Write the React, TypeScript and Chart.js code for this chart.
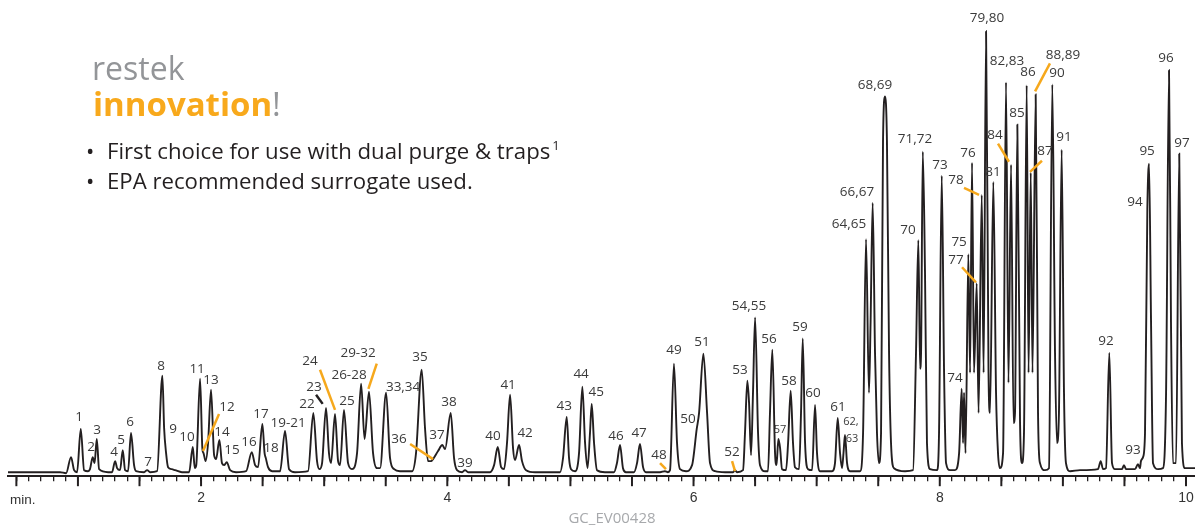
import React, { useEffect, useRef } from 'react';
import { Chart, registerables } from 'chart.js';

Chart.register(...registerables);

// ---------- data ----------
// x axis range (minutes)
const X_MIN = 0.432;
const X_MAX = 10.073;
const Y_MIN = -3;
const Y_MAX = 471;

// axis tick labels
const tickLabelValues = [2, 4, 6, 8, 10];
const tickLabels = ['2', '4', '6', '8', '10'];

// chromatogram trace: [retention time (min), detector signal]
const chromatogram: [number, number][] = [
  [0.432, 1], [0.855, 1], [0.904, 0], [0.944, 16], [0.969, 3], [0.993, 1], [1.023, 44], [1.05, 3],
  [1.082, 2], [1.098, 4], [1.12, 16], [1.135, 10], [1.153, 34], [1.172, 4], [1.245, 1], [1.277, 1],
  [1.302, 12], [1.318, 5], [1.342, 3], [1.364, 23], [1.383, 3], [1.407, 2], [1.431, 40], [1.456, 8],
  [1.472, 2], [1.537, 1], [1.562, 3], [1.586, 1], [1.643, 2], [1.686, 97], [1.7, 45], [1.716, 20],
  [1.732, 6], [1.762, 4], [1.789, 3], [1.845, 1], [1.903, 1], [1.933, 26], [1.949, 5], [1.961, 8],
  [1.992, 94], [2.011, 24], [2.02, 20], [2.037, 12], [2.057, 30], [2.081, 83], [2.106, 18], [2.122, 14],
  [2.149, 33], [2.17, 10], [2.187, 8], [2.209, 11], [2.236, 3], [2.284, 1], [2.366, 2], [2.412, 21],
  [2.439, 8], [2.463, 6], [2.498, 49], [2.516, 20], [2.526, 15], [2.544, 6], [2.577, 2], [2.642, 2],
  [2.682, 42], [2.715, 4], [2.763, 1], [2.869, 2], [2.912, 60], [2.942, 12], [2.962, 4], [2.983, 10],
  [3.015, 65], [3.039, 20], [3.056, 10], [3.088, 59], [3.113, 12], [3.129, 8], [3.161, 63], [3.194, 10],
  [3.226, 4], [3.267, 20], [3.3, 89], [3.328, 34], [3.364, 81], [3.397, 20], [3.429, 5], [3.454, 5],
  [3.503, 80], [3.535, 15], [3.568, 4], [3.616, 2], [3.714, 2], [3.746, 20], [3.792, 103], [3.819, 45],
  [3.844, 12], [3.868, 12], [3.884, 14], [3.925, 22], [3.96, 28], [3.982, 24], [4.028, 60], [4.055, 15],
  [4.079, 3], [4.12, 1], [4.144, 3], [4.169, 1], [4.347, 1], [4.38, 8], [4.41, 26], [4.437, 6],
  [4.461, 4], [4.485, 30], [4.51, 78], [4.534, 25], [4.55, 13], [4.583, 28], [4.607, 12], [4.64, 3],
  [4.713, 1], [4.916, 1], [4.94, 15], [4.97, 56], [4.989, 15], [5.005, 4], [5.038, 2], [5.07, 20],
  [5.097, 86], [5.119, 30], [5.139, 5], [5.159, 40], [5.173, 69], [5.192, 30], [5.216, 3], [5.281, 1],
  [5.354, 1], [5.378, 10], [5.403, 28], [5.427, 5], [5.451, 1], [5.516, 1], [5.541, 10], [5.565, 29],
  [5.59, 6], [5.614, 1], [5.728, 1], [5.768, 2], [5.792, 1], [5.809, 3], [5.841, 109], [5.866, 30],
  [5.89, 4], [5.939, 2], [5.988, 8], [6.026, 44], [6.045, 60], [6.08, 119], [6.11, 60], [6.134, 10],
  [6.175, 2], [6.256, 1], [6.321, 1], [6.337, 3], [6.353, 1], [6.402, 3], [6.418, 40], [6.437, 92],
  [6.451, 70], [6.467, 18], [6.483, 80], [6.5, 155], [6.524, 40], [6.54, 8], [6.581, 2], [6.605, 2],
  [6.621, 60], [6.64, 123], [6.662, 20], [6.674, 8], [6.689, 34], [6.703, 25], [6.719, 4], [6.751, 3],
  [6.768, 30], [6.789, 82], [6.808, 30], [6.824, 6], [6.857, 4], [6.873, 60], [6.887, 134], [6.906, 30],
  [6.93, 4], [6.963, 3], [6.987, 68], [7.003, 20], [7.028, 2], [7.125, 2], [7.149, 10], [7.171, 55],
  [7.19, 20], [7.206, 5], [7.218, 20], [7.23, 38], [7.247, 10], [7.271, 2], [7.352, 2], [7.377, 40],
  [7.401, 233], [7.425, 80], [7.438, 150], [7.455, 269], [7.474, 120], [7.49, 40], [7.506, 10], [7.523, 40],
  [7.539, 330], [7.555, 375], [7.571, 330], [7.588, 120], [7.604, 30], [7.628, 5], [7.718, 2], [7.783, 3],
  [7.807, 120], [7.826, 232], [7.84, 104], [7.848, 120], [7.862, 320], [7.88, 200], [7.896, 30], [7.921, 4],
  [7.978, 3], [7.994, 40], [8.016, 296], [8.035, 100], [8.051, 10], [8.083, 3], [8.124, 3], [8.157, 20],
  [8.178, 84], [8.189, 30], [8.197, 80], [8.209, 20], [8.232, 218], [8.246, 100], [8.262, 309], [8.278, 100],
  [8.3, 189], [8.315, 60], [8.341, 277], [8.356, 100], [8.376, 440], [8.396, 100], [8.408, 60], [8.435, 290],
  [8.457, 80], [8.473, 20], [8.489, 5], [8.514, 20], [8.538, 389], [8.558, 90], [8.579, 307], [8.599, 50],
  [8.611, 60], [8.63, 347], [8.652, 50], [8.668, 10], [8.684, 40], [8.706, 386], [8.721, 100], [8.739, 299],
  [8.753, 100], [8.779, 377], [8.798, 60], [8.814, 10], [8.855, 3], [8.887, 5], [8.914, 387], [8.936, 120],
  [8.952, 30], [8.968, 60], [8.99, 322], [9.009, 80], [9.025, 10], [9.058, 2], [9.139, 3], [9.285, 4],
  [9.307, 12], [9.326, 4], [9.35, 5], [9.377, 120], [9.399, 10], [9.423, 4], [9.48, 4], [9.496, 8],
  [9.513, 4], [9.586, 4], [9.61, 9], [9.626, 5], [9.634, 12], [9.651, 16], [9.667, 40], [9.686, 263],
  [9.7, 308], [9.716, 150], [9.732, 10], [9.773, 4], [9.813, 5], [9.838, 80], [9.862, 401], [9.878, 150],
  [9.894, 10], [9.919, 10], [9.945, 318], [9.967, 30], [9.992, 5], [10.073, 5],
];

// peak labels: [text, time (min), signal level, small font]
const peakLabels: [string, number, number, boolean][] = [
  ['1', 1.009, 56, false], ['2', 1.107, 26, false], ['3', 1.155, 43, false], ['4', 1.293, 21, false],
  ['5', 1.35, 33, false], ['6', 1.423, 51, false], ['7', 1.57, 11, false], ['8', 1.675, 107, false],
  ['9', 1.773, 44, false], ['10', 1.886, 36, false], ['11', 1.968, 104, false], ['12', 2.211, 66, false],
  ['13', 2.081, 93, false], ['14', 2.17, 41, false], ['15', 2.252, 23, false], ['16', 2.39, 31, false],
  ['17', 2.487, 59, false], ['18', 2.569, 25, false], ['19-21', 2.707, 50, false], ['22', 2.861, 69, false],
  ['23', 2.918, 86, false], ['24', 2.885, 112, false], ['25', 3.186, 72, false], ['26-28', 3.202, 98, false],
  ['29-32', 3.275, 119, false], ['33,34', 3.641, 86, false], ['35', 3.779, 115, false], ['36', 3.608, 34, false],
  ['37', 3.917, 38, false], ['38', 4.014, 71, false], ['39', 4.144, 10, false], ['40', 4.372, 37, false],
  ['41', 4.494, 88, false], ['42', 4.632, 40, false], ['43', 4.949, 67, false], ['44', 5.087, 99, false],
  ['45', 5.209, 81, false], ['46', 5.371, 37, false], ['47', 5.558, 40, false], ['48', 5.72, 18, false],
  ['49', 5.841, 122, false], ['50', 5.955, 54, false], ['51', 6.069, 130, false], ['52', 6.313, 21, false],
  ['53', 6.378, 103, false], ['54,55', 6.451, 166, false], ['56', 6.613, 133, false], ['57', 6.703, 43, true],
  ['58', 6.776, 92, false], ['59', 6.865, 145, false], ['60', 6.971, 80, false], ['61', 7.174, 66, false],
  ['62,', 7.279, 51, true], ['63', 7.287, 34, true], ['64,65', 7.263, 248, false], ['66,67', 7.328, 280, false],
  ['68,69', 7.474, 386, false], ['70', 7.742, 242, false], ['71,72', 7.799, 332, false], ['73', 8.002, 307, false],
  ['74', 8.124, 95, false], ['75', 8.157, 230, false], ['76', 8.23, 319, false], ['77', 8.132, 212, false],
  ['78', 8.132, 292, false], ['79,80', 8.384, 453, false], ['81', 8.433, 300, false], ['82,83', 8.546, 410, false],
  ['84', 8.449, 336, false], ['85', 8.627, 358, false], ['86', 8.716, 399, false], ['87', 8.855, 321, false],
  ['88,89', 9.001, 416, false], ['90', 8.952, 398, false], ['91', 9.009, 334, false], ['92', 9.35, 131, false],
  ['93', 9.57, 23, false], ['94', 9.586, 270, false], ['95', 9.684, 321, false], ['96', 9.838, 413, false],
  ['97', 9.968, 329, false],
];

// leader lines: [t1, s1, t2, s2, colour]
const ORANGE = '#f6a81c';
const leaderLines: [number, number, number, number, string][] = [
  [2.016, 22, 2.146, 59, ORANGE],
  [2.934, 78, 2.988, 69, '#231f20'],
  [2.966, 103, 3.088, 63, ORANGE],
  [3.427, 109, 3.359, 84, ORANGE],
  [3.698, 29, 3.884, 14, ORANGE],
  [5.728, 10, 5.776, 4, ORANGE],
  [6.313, 12, 6.337, 2, ORANGE],
  [8.181, 205, 8.294, 190, ORANGE],
  [8.197, 284, 8.319, 277, ORANGE],
  [8.473, 328, 8.562, 310, ORANGE],
  [8.83, 311, 8.733, 300, ORANGE],
  [8.774, 380, 8.895, 408, ORANGE],
];

const INK = '#231f20';
const LABEL_INK = '#3a3a3a';

const peakLabelPlugin = {
  id: 'peakLabels',
  afterDraw(chart: any) {
    const { ctx, scales, chartArea } = chart;
    const x = scales.x;
    const y = scales.y;
    ctx.save();
    // longer major ticks every 0.5 min
    ctx.strokeStyle = INK;
    ctx.lineWidth = 2;
    for (let i = 5; i <= 100; i += 5) {
      const px = x.getPixelForValue(i / 10);
      ctx.beginPath();
      ctx.moveTo(px, chartArea.bottom);
      ctx.lineTo(px, chartArea.bottom + 10);
      ctx.stroke();
    }
    // leader lines
    ctx.lineWidth = 2.5;
    ctx.lineCap = 'butt';
    leaderLines.forEach(([t1, s1, t2, s2, c]) => {
      ctx.strokeStyle = c;
      ctx.beginPath();
      ctx.moveTo(x.getPixelForValue(t1), y.getPixelForValue(s1));
      ctx.lineTo(x.getPixelForValue(t2), y.getPixelForValue(s2));
      ctx.stroke();
    });
    // labels
    ctx.fillStyle = LABEL_INK;
    ctx.textAlign = 'center';
    ctx.textBaseline = 'middle';
    peakLabels.forEach(([txt, t, s, small]) => {
      ctx.font = `${small ? 11 : 13.5}px "Open Sans"`;
      ctx.fillText(txt, x.getPixelForValue(t), y.getPixelForValue(s));
    });
    ctx.restore();
  },
};

export default function App() {
  const ref = useRef<HTMLCanvasElement | null>(null);

  useEffect(() => {
    if (!ref.current) return;
    const minorTicks: number[] = [];
    for (let i = 5; i <= 100; i++) minorTicks.push(i / 10);
    const chart = new Chart(ref.current, {
      type: 'line',
      data: {
        datasets: [
          {
            data: chromatogram.map(([t, s]) => ({ x: t, y: s })),
            borderColor: INK,
            borderWidth: 1.9,
            pointRadius: 0,
            fill: false,
            cubicInterpolationMode: 'monotone',
          },
        ],
      },
      options: {
        responsive: false,
        animation: false,
        devicePixelRatio: 1,
        layout: { padding: { left: 8, right: 0, top: 0, bottom: 9 } },
        plugins: { legend: { display: false }, tooltip: { enabled: false } },
        scales: {
          x: {
            type: 'linear',
            min: X_MIN,
            max: X_MAX,
            afterBuildTicks: (scale: any) => {
              scale.ticks = minorTicks.map((v) => ({ value: v }));
            },
            afterFit: (scale: any) => {
              scale.paddingLeft = 0;
              scale.paddingRight = 0;
            },
            ticks: {
              autoSkip: false,
              maxRotation: 0,
              padding: 9,
              color: '#333333',
              font: { family: '"Liberation Sans", Arial, sans-serif', size: 14 },
              callback: (v: any) => {
                const idx = tickLabelValues.findIndex((tv) => Math.abs(tv - Number(v)) < 1e-6);
                return idx >= 0 ? tickLabels[idx] : '';
              },
            },
            grid: {
              drawOnChartArea: false,
              drawTicks: true,
              tickLength: 5,
              color: INK,
              lineWidth: 1.3,
            },
            border: { display: true, color: INK, width: 2 },
          },
          y: { display: false, min: Y_MIN, max: Y_MAX },
        },
      },
      plugins: [peakLabelPlugin],
    } as any);
    return () => chart.destroy();
  }, []);

  const sans = '"Open Sans", sans-serif';
  return (
    <div style={{ position: 'fixed', left: 0, top: 0, width: 1195, height: 525, background: '#fff', overflow: 'hidden' }}>
      <canvas ref={ref} width={1195} height={525} style={{ position: 'absolute', left: 0, top: 0, width: 1195, height: 525 }} />
      <div style={{ position: 'absolute', left: 92, top: 52, fontFamily: sans, fontSize: 32, lineHeight: '32px', color: '#939598', whiteSpace: 'nowrap' }}>
        restek
      </div>
      <div style={{ position: 'absolute', left: 93, top: 87, fontFamily: sans, fontSize: 33, lineHeight: '33px', whiteSpace: 'nowrap' }}>
        <span style={{ color: '#f8a91c', fontWeight: 700 }}>innovation</span>
        <span style={{ color: '#939598', fontWeight: 400 }}>!</span>
      </div>
      <div style={{ position: 'absolute', left: 86, top: 140, fontFamily: sans, fontSize: 22.2, lineHeight: '22px', color: INK, whiteSpace: 'nowrap' }}>
        <span style={{ position: 'absolute', left: 0, top: 0 }}>•</span>
        <span style={{ position: 'absolute', left: 21, top: 0 }}>
          First choice for use with dual purge &amp; traps
          <span style={{ fontSize: 13, position: 'relative', top: -9, marginLeft: 2 }}>1</span>
        </span>
      </div>
      <div style={{ position: 'absolute', left: 86, top: 170, fontFamily: sans, fontSize: 22.2, lineHeight: '22px', color: INK, whiteSpace: 'nowrap' }}>
        <span style={{ position: 'absolute', left: 0, top: 0 }}>•</span>
        <span style={{ position: 'absolute', left: 21, top: 0 }}>EPA recommended surrogate used.</span>
      </div>
      <div style={{ position: 'absolute', left: 10, top: 493, fontFamily: '"Liberation Sans", Arial, sans-serif', fontSize: 13.5, lineHeight: '13.5px', color: '#333333' }}>
        min.
      </div>
      <div style={{ position: 'absolute', left: 512, width: 200, textAlign: 'center', top: 509.7, fontFamily: sans, fontSize: 15, lineHeight: '15px', color: '#a7a9ac' }}>
        GC_EV00428
      </div>
    </div>
  );
}
